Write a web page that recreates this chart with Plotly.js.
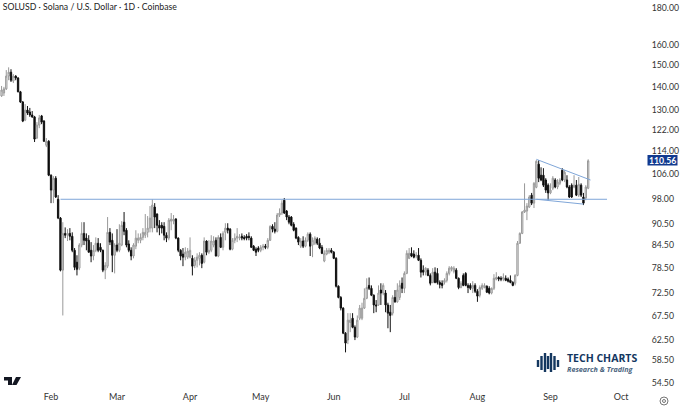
<!DOCTYPE html>
<html>
<head>
<meta charset="utf-8">
<script src="https://cdn.plot.ly/plotly-3.0.1.min.js"></script>
<style>
body { margin: 0; background: #fff; }
#chart { width: 680px; height: 408px; }
</style>
</head>
<body>
<div id="chart"></div>
<script>
const firstDay = '2023-01-11';

const open = [
    136,137.3,139.1,144.9,146.7,142.6,144.9,144,137.8,133.4,
    125.9,130,129.2,128,127.2,118.9,123.9,127.6,125.5,116.2,
    117.7,105.6,100.7,104.6,97.8,92.1,78,87.7,87.2,87.7,
    86.9,83.1,80,78.5,84.5,87.7,86.4,85.8,83.1,81.6,
    83.1,85,83.9,83.1,78,79,88,85.8,81.8,84.5,
    83.1,84.5,90.9,88.6,84.8,83.1,81.6,84.2,85.8,85.8,
    86.6,87.2,88,89.2,89.2,95.4,93.3,90,90,89.7,
    87.2,86.4,91.2,91.2,91.8,86.4,83.1,82.1,81.3,81.3,
    81.3,81,79.2,80.5,81,81.8,80,85.6,82.6,83.1,
    84.5,85.8,81.6,86.6,83.9,88,89.2,88.9,83.4,85.8,
    86.4,86.4,86.9,86.6,86.9,86.9,86.4,84.2,83.4,83.7,
    83.1,83.9,84.2,83.9,85.8,89.7,88.9,88.3,93,93.6,
    97.5,94.2,92.4,92.4,90.3,89.2,86.6,84.2,85.6,84.2,
    85.8,87.5,84.5,85,86.1,85,83.9,80.3,82.1,82.6,
    83.1,82.6,81,74.1,71.5,69.1,63.8,62.4,66,66.9,
    65,63,66.9,66.9,69.1,71.3,74.3,73.6,72,69.8,
    69.8,73.2,72.5,72.5,69.8,68.2,68,71.5,70.5,71.5,
    74.8,73.6,77.2,81,82.3,82.1,81.6,81.8,80.5,78,
    77.5,78,76.7,75,77.5,77.2,75,74.8,75,75.5,
    77.2,78.2,77.7,78,76,73.8,76.7,77.2,74.3,74.3,
    73.6,74.3,72.9,72,73.6,73.8,74.1,73.6,72.5,73.6,
    75.8,76.2,76,75.8,76,75.8,75.5,75,74.8,76.7,
    85,87.7,93.9,94.2,95.4,99.1,96.6,101.6,109.4,105.6,
    105.6,104,102.3,99.8,101.3,104,101.7,102.9,107.3,104,
    104,101.7,102.3,101.7,102.3,99.1,102.3,98.5,98.2,101.3
];
const high = [
    140.4,140,147.7,149,148.1,145.8,145.3,144.4,138.2,133.8,
    132.5,131.7,130.9,129.6,127.6,125.1,128,128,125.9,118.9,
    118.1,105.9,105.3,105.3,99.1,92.4,90.9,89.4,88.9,89.2,
    88,83.7,81.8,85,90.9,90.9,87.7,87.2,85.3,84.5,
    86.6,86.4,85,83.3,80,92.4,89.2,87.7,85,88.9,
    90.3,91.2,93.9,89.2,85.8,83.9,85,88.6,87.7,87.7,
    89.2,93.3,92.7,95.7,97.8,96.6,93.5,91.5,90.9,90.9,
    88,92.1,93.6,93,92.1,86.6,83.4,83.7,83.9,83.7,
    86.6,81.8,81.3,82.3,82.6,82.3,86.6,85.8,85.8,87.2,
    86.9,86.6,87.2,87.7,88.3,90.6,90.6,89.2,86.4,87.7,
    89.2,87.5,87.7,87.2,87.5,88,86.9,84.5,83.9,84.2,
    84.5,84.8,84.8,86.4,90,90.3,90.9,93.6,95,97.5,
    98.2,94.5,93,92.7,90.9,89.4,86.9,86.4,86.9,86.6,
    88,88,86.6,86.9,86.6,86.4,84.5,83.1,83.7,83.7,
    83.7,82.9,81.3,74.3,71.8,69.3,64,68,68,68,
    65.4,67.5,69.8,70.3,73.6,76,76.2,74.3,72.2,70.9,
    74.3,74.8,74.8,73.2,70.3,69.8,72,73.2,74.8,75.5,
    76.2,77.7,83.1,83.7,83.9,83.1,82.6,83.7,81,79.2,
    78.7,78.5,77.2,78.5,78.7,78.5,75.5,75.5,76,77.7,
    79,79,79,78.5,76.2,75.3,77.2,77.5,74.8,74.8,
    75.3,74.8,73.4,74.3,74.8,74.8,74.3,74.1,73.8,77,
    77.5,76.5,76.5,77.2,76.7,76.2,76.7,75.3,77,85.6,
    88,94.2,102.9,96.6,99.1,99.8,103.3,110.8,110.8,108.3,
    108,104.6,102.9,102.9,105.3,104.6,104.3,104.6,108,107.3,
    105.6,102.3,102.9,105.6,104,105,102.9,99.8,102.3,111.1
];
const low = [
    135.6,136,138.6,143,142.2,141.7,143,137.6,133,125.1,
    125.5,128,127.2,126.8,117.4,118.5,122.7,124.3,117.4,115.5,
    105.3,96.6,96.6,98.2,91.8,77.7,67.5,86.4,85.6,85.8,
    82.6,78,76.7,78,83.9,84.5,83.1,82.5,80,80.5,
    82.6,82.6,82.6,77.5,75.8,78.5,84.5,77.5,77.2,82.6,
    82.6,84.2,87.2,83.9,82.6,80.5,81,83.4,85,85,
    85.8,86.4,86.6,88,88,89.2,88,87.2,87.7,85.8,
    85.3,85.8,88.6,90.3,86.1,82.6,80.5,79,80.5,80.8,
    81,76.7,78.5,78.7,79.2,78.5,79.7,81.8,82.1,82.6,
    83.9,81.5,81.3,83.7,83.1,85.8,87.7,83.1,83.1,85,
    85.3,85.8,85.8,85.8,85.8,85.8,83.7,82.9,81.6,82.6,
    82.6,83.1,83.4,83.4,85.6,88,87.7,88,92.4,93,
    93.3,91.5,90.3,89.7,88.3,86.1,84.5,83.7,83.7,83.9,
    85.3,81.6,81.3,84.5,84.5,83.4,82.1,80,81.8,82.1,
    82.3,80.8,73.8,71.3,68.6,63.6,60,61.6,64,64.8,
    62.4,62.8,66.5,66.5,68.9,71.1,73.2,71.8,68,68.2,
    69.6,69.8,72,68.2,64.8,64,67.5,70.3,70.3,70.9,
    72.5,72.5,77,80.8,81.3,81,81,80.3,76.2,76.7,
    76.7,76.5,74.3,74.8,74.8,74.5,73.6,73.6,74.5,75,
    76.7,77.7,77.2,75.8,73.4,73.6,74.1,74.1,72.5,73.2,
    72.5,72.5,70.5,71.5,73.2,73.6,72.5,72.2,72.2,73.2,
    75.5,75.3,75.3,75.3,75.3,75,74.8,74.1,74.3,76.5,
    84.8,87.5,93.6,91.5,95.1,96,95.1,101.3,103.3,103.6,
    101.7,99.8,97.5,99.4,100.7,101.3,101,102.3,103.6,103.3,
    101.3,98.2,98.2,101.3,98.8,98.5,98.5,96,97.5,101
];
const close = [
    138.6,139.1,144.9,146.7,143,144.9,144,137.8,133.4,125.5,
    130,128.8,128,127.2,118.5,123.9,126.8,125.1,117.7,117.7,
    105.6,100.7,104.6,98.5,92.1,78,87.7,87.2,87.7,86.9,
    83.1,78.7,78.2,84.5,87.7,85.8,85.6,82.6,81.6,83.1,
    85,83.1,83.1,78,79.2,88,85.3,81.8,84.5,83.1,
    85,90,88.3,84.5,83.1,81.6,84.5,86.4,86.4,86.6,
    88,88,89.2,92.1,96,92.4,90,89.2,89.2,87.2,
    86.4,91.5,91.8,91.8,86.4,83.1,81.6,81.3,82.6,82.9,
    83.1,79,80.5,81.3,81.8,79.7,85.6,82.6,83.1,85.6,
    85.6,81.6,86.6,83.9,87.7,89.2,88.6,83.4,85.8,86.4,
    86.9,86.6,86.4,86.3,86.4,86.6,83.9,83.1,82.6,83.1,
    83.9,84.2,83.9,85.8,89.7,88.9,88.3,93,93.6,96.6,
    93.6,92.4,90.9,90,88.6,86.4,85.3,85.6,84.2,85.8,
    87.5,84.2,85.8,86.4,85,83.7,82.3,82.3,83.1,83.1,
    82.6,81,74.1,71.5,69.1,63.8,61.8,66.5,66.5,65,
    63,66.5,69.1,69.1,71.3,73.8,73.6,72,69.8,69.6,
    72.5,72.5,74.3,69.8,68,67.5,71.5,70.5,73.2,74.3,
    73.6,77.2,82.3,82.3,81.6,81.3,81.8,80.5,77.5,77.5,
    78.5,76.7,74.8,77.5,75,75,74.5,74.3,75.5,77.2,
    78.5,78.7,78.5,76,73.8,74.8,74.3,74.3,73.8,73.6,
    74.3,72.9,71.8,73.8,74.3,74.3,72.7,72.5,73.6,76,
    76.2,75.8,75.8,76.2,75.5,75.3,75,74.3,76.7,85,
    87.7,93.9,94.5,95.7,98.5,96.6,102.9,110.4,104.6,104,
    102.3,100.7,99.8,100.7,104.6,101.7,103.3,104,104,106.6,
    101.7,98.5,98.5,102.3,99.1,102.6,99.1,96.6,101.7,110.56
];

// trend lines
const levelDates = ['2023-02-05', '2023-09-25'];
const levelPrices = [97.8, 97.8];
const flagTopDates = ['2023-08-26', '2023-09-18'];
const flagTopPrices = [111.1, 104];
const flagBottomDates = ['2023-08-26', '2023-09-15'];
const flagBottomPrices = [97.8, 96.3];

const yTicks = [180, 160, 150, 140, 130, 122, 114, 106, 98, 90.5, 84.5, 78.5, 72.5, 67.5, 62.5, 58.5, 54.5];
const yLabels = ['180.00', '160.00', '150.00', '140.00', '130.00', '122.00', '114.00', '106.00', '98.00', '90.50', '84.50', '78.50', '72.50', '67.50', '62.50', '58.50', '54.50'];
const xTicks = ['2023-02-01', '2023-03-01', '2023-04-01', '2023-05-01', '2023-06-01', '2023-07-01', '2023-08-01', '2023-09-01', '2023-10-01'];
const xLabels = ['Feb', 'Mar', 'Apr', 'May', 'Jun', 'Jul', 'Aug', 'Sep', 'Oct'];

const lastPrice = 110.56;

let dates = [];
for (let n = 0; n < close.length; n++) {
    let d = new Date(firstDay + 'T00:00:00Z');
    d.setUTCDate(d.getUTCDate() + n);
    dates.push(d.toISOString().slice(0, 10));
}

const plotW = 640;
const plotH = 390;
const px = v => v / plotW;
const py = v => (plotH - v) / plotH;

function trendLine(x, y) {
    return {
        x: x,
        y: y,
        mode: 'lines',
        type: 'scatter',
        line: {color: '#7fa6d8', width: 1},
        hoverinfo: 'skip'
    };
}

var candles = {
    x: dates,
    open: open,
    high: high,
    low: low,
    close: close,
    type: 'candlestick',
    increasing: {line: {color: '#999999', width: 1}, fillcolor: '#ededed'},
    decreasing: {line: {color: '#111111', width: 1}, fillcolor: '#000000'},
    whiskerwidth: 0
};

var data = [
    trendLine(levelDates, levelPrices),
    candles,
    trendLine(flagTopDates, flagTopPrices),
    trendLine(flagBottomDates, flagBottomPrices)
];

// logo and icon marks, in page pixels
function bar(x, y0, y1) {
    return {
        type: 'line', xref: 'paper', yref: 'paper',
        x0: px(x), x1: px(x), y0: py(y0), y1: py(y1),
        line: {color: '#14375f', width: 2.4}
    };
}

function poly(points, color) {
    let path = points.map((p, n) => (n === 0 ? 'M' : 'L') + px(p[0]) + ',' + py(p[1])).join(' ') + ' Z';
    return {type: 'path', xref: 'paper', yref: 'paper', path: path, fillcolor: color, line: {width: 0}};
}

const shapes = [
    {
        type: 'rect', xref: 'paper', yref: 'paper',
        x0: px(647.5), x1: px(677.5), y0: py(165.5), y1: py(155),
        fillcolor: '#123a8f', line: {width: 0}
    },
    bar(538, 360, 367),
    bar(541.5, 356, 370),
    bar(545, 353, 372),
    bar(548, 356, 369),
    bar(551, 353, 372),
    bar(554.5, 356, 370),
    bar(558, 360, 367),
    poly([[4, 377], [12, 377], [12, 385], [8, 385], [8, 380.5], [4, 380.5]], '#131722'),
    poly([[16, 377], [21, 377], [16.5, 385], [12, 385]], '#131722'),
    {type: 'circle', xref: 'paper', yref: 'paper', x0: px(660), x1: px(668), y0: py(405), y1: py(397), line: {color: '#777', width: 1}},
    {type: 'circle', xref: 'paper', yref: 'paper', x0: px(662.5), x1: px(665.5), y0: py(402.5), y1: py(399.5), line: {color: '#777', width: 1}}
];

const annotations = [
    {
        x: px(662.5), y: Math.log10(lastPrice), xref: 'paper', yref: 'y',
        xanchor: 'center', yanchor: 'middle', yshift: 0,
        text: '<b>' + lastPrice.toFixed(2) + '</b>', showarrow: false,
        font: {color: '#fff', size: 8.7, family: 'Lato'},
        borderpad: 0
    },
    {
        x: px(564.5), y: py(358), xref: 'paper', yref: 'paper',
        xanchor: 'left', yanchor: 'middle',
        text: '<b>TECH CHARTS</b>', showarrow: false,
        font: {color: '#14375f', size: 10.5, family: 'Open Sans'}
    },
    {
        x: px(565), y: py(368.5), xref: 'paper', yref: 'paper',
        xanchor: 'left', yanchor: 'middle',
        text: '<b><i>Research &amp; Trading</i></b>', showarrow: false,
        font: {color: '#4c6580', size: 7.2, family: 'Open Sans'}
    }
];

var layout = {
    width: 680,
    height: 408,
    margin: {l: 0, r: 40, t: 0, b: 18},
    paper_bgcolor: '#fff',
    plot_bgcolor: '#fff',
    showlegend: false,
    boxgap: 0.2,
    font: {family: 'Lato', color: '#333', size: 8.7},
    title: {
        text: 'SOLUSD · Solana / U.S. Dollar · 1D · Coinbase',
        x: 0.004, xanchor: 'left', y: 0.984, yanchor: 'middle',
        font: {family: 'Lato', size: 8.7, color: '#222'}
    },
    xaxis: {
        type: 'date',
        range: ['2023-01-10 08:00', '2023-10-09 00:00'],
        tickvals: xTicks,
        ticktext: xLabels,
        tickfont: {size: 9},
        showgrid: false,
        zeroline: false,
        showline: false,
        rangeslider: {visible: false},
        ticks: ''
    },
    yaxis: {
        type: 'log',
        side: 'right',
        range: [1.726, 2.2665],
        tickvals: yTicks,
        ticktext: yLabels,
        showgrid: false,
        zeroline: false,
        showline: false,
        ticks: 'outside',
        ticklen: 9,
        tickcolor: 'rgba(0,0,0,0)'
    },
    shapes: shapes,
    annotations: annotations
};

Plotly.newPlot('chart', data, layout, {displayModeBar: false, staticPlot: true});
</script>
</body>
</html>
